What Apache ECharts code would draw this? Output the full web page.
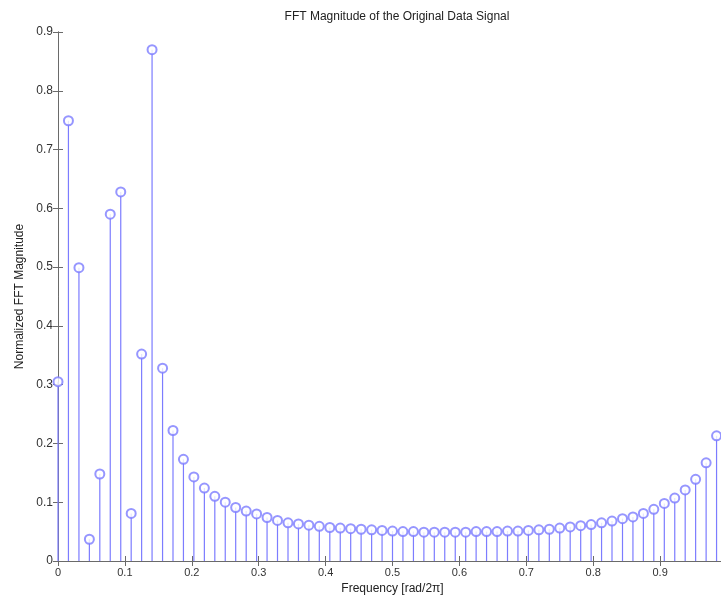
<!DOCTYPE html>
<html>
<head>
<meta charset="utf-8">
<title>FFT Magnitude of the Original Data Signal</title>
<script src="https://cdn.jsdelivr.net/npm/echarts@6/dist/echarts.min.js"></script>
<style>
    html, body { margin: 0; padding: 0; background: #fff; }
    #fftChart { width: 721px; height: 602px; }
</style>
</head>
<body>
<div id="fftChart"></div>
<script>
// frequency bins [rad/2pi], 64 points
var freqs = [
    0.0000, 0.0156, 0.0313, 0.0469, 0.0625, 0.0781, 0.0938, 0.1094,
    0.1250, 0.1406, 0.1563, 0.1719, 0.1875, 0.2031, 0.2188, 0.2344,
    0.2500, 0.2656, 0.2813, 0.2969, 0.3125, 0.3281, 0.3438, 0.3594,
    0.3750, 0.3906, 0.4063, 0.4219, 0.4375, 0.4531, 0.4688, 0.4844,
    0.5000, 0.5156, 0.5313, 0.5469, 0.5625, 0.5781, 0.5938, 0.6094,
    0.6250, 0.6406, 0.6563, 0.6719, 0.6875, 0.7031, 0.7188, 0.7344,
    0.7500, 0.7656, 0.7813, 0.7969, 0.8125, 0.8281, 0.8438, 0.8594,
    0.8750, 0.8906, 0.9063, 0.9219, 0.9375, 0.9531, 0.9688, 0.9844
];

// normalized FFT magnitude
var magnitudes = [
    0.305, 0.749, 0.499, 0.037, 0.148, 0.590, 0.628, 0.081,
    0.352, 0.870, 0.328, 0.222, 0.173, 0.143, 0.124, 0.110,
    0.100, 0.091, 0.085, 0.080, 0.074, 0.069, 0.065, 0.063,
    0.061, 0.059, 0.057, 0.056, 0.055, 0.054, 0.053, 0.052,
    0.051, 0.050, 0.050, 0.049, 0.049, 0.049, 0.049, 0.049,
    0.050, 0.050, 0.050, 0.051, 0.051, 0.052, 0.053, 0.054,
    0.056, 0.058, 0.060, 0.062, 0.065, 0.068, 0.072, 0.075,
    0.081, 0.088, 0.098, 0.107, 0.121, 0.139, 0.167, 0.213
];

var xTicks = [0, 0.1, 0.2, 0.3, 0.4, 0.5, 0.6, 0.7, 0.8, 0.9, 1];
var yTicks = [0, 0.1, 0.2, 0.3, 0.4, 0.5, 0.6, 0.7, 0.8, 0.9];

(function() {
    var myChart = echarts.init(document.getElementById('fftChart'));

    var stemColor = '#7c7cff';
    var axisColor = '#6a6a6a';
    var font = 'Liberation Sans, Arial, sans-serif';

    var points = freqs.map(function(f, i) { return [f, magnitudes[i]]; });

    var tickStyle = { show: true, inside: true, length: 5, lineStyle: { color: axisColor } };

    option = {
        animation: false,
        backgroundColor: '#fff',
        title: {
            text: 'FFT Magnitude of the Original Data Signal',
            left: 392,
            textAlign: 'center',
            top: 6,
            textStyle: { fontFamily: font, fontSize: 12, fontWeight: 'normal', color: '#222' }
        },
        grid: {
            left: 58,
            top: 32,
            width: 669,
            height: 529,
            containLabel: false,
            outerBoundsMode: 'none'
        },
        xAxis: [
            {
                type: 'value',
                position: 'bottom',
                min: xTicks[0],
                max: xTicks[xTicks.length - 1],
                interval: 0.1,
                name: 'Frequency [rad/2\u03c0]',
                nameLocation: 'middle',
                nameGap: 19,
                nameTextStyle: { fontFamily: font, fontSize: 12, color: '#222' },
                axisLine: { lineStyle: { color: axisColor, width: 1 } },
                axisTick: tickStyle,
                axisLabel: { fontFamily: font, fontSize: 11, color: '#333', margin: 6 },
                splitLine: { show: false }
            },
            {
                type: 'value',
                position: 'top',
                min: xTicks[0],
                max: xTicks[xTicks.length - 1],
                interval: 0.1,
                axisLine: { lineStyle: { color: axisColor, width: 1 } },
                axisTick: tickStyle,
                axisLabel: { show: false },
                splitLine: { show: false }
            }
        ],
        yAxis: [
            {
                type: 'value',
                position: 'left',
                min: yTicks[0],
                max: yTicks[yTicks.length - 1],
                interval: 0.1,
                name: 'Normalized FFT Magnitude',
                nameLocation: 'middle',
                nameGap: 31,
                nameRotate: 90,
                nameTextStyle: { fontFamily: font, fontSize: 12, color: '#222' },
                axisLine: { show: true, lineStyle: { color: axisColor, width: 1 } },
                axisTick: tickStyle,
                axisLabel: { fontFamily: font, fontSize: 12, color: '#333', margin: 5 },
                splitLine: { show: false }
            },
            {
                type: 'value',
                position: 'right',
                min: yTicks[0],
                max: yTicks[yTicks.length - 1],
                interval: 0.1,
                axisLine: { show: true, lineStyle: { color: axisColor, width: 1 } },
                axisTick: tickStyle,
                axisLabel: { show: false },
                splitLine: { show: false }
            }
        ],
        series: [
            {
                name: 'stems',
                type: 'custom',
                xAxisIndex: 0,
                yAxisIndex: 0,
                clip: false,
                z: 2,
                data: points,
                renderItem: function(params, api) {
                    var base = api.coord([api.value(0), 0]);
                    var top = api.coord([api.value(0), api.value(1)]);
                    return {
                        type: 'line',
                        shape: { x1: base[0], y1: base[1], x2: base[0], y2: top[1] },
                        style: { stroke: stemColor, lineWidth: 1.2 }
                    };
                }
            },
            {
                name: 'markers',
                type: 'scatter',
                xAxisIndex: 0,
                yAxisIndex: 0,
                clip: false,
                z: 3,
                symbol: 'emptyCircle',
                symbolSize: 9,
                itemStyle: { color: stemColor, borderColor: stemColor, borderWidth: 1 },
                data: points
            }
        ]
    };

    myChart.setOption(option);
})();
</script>
</body>
</html>
